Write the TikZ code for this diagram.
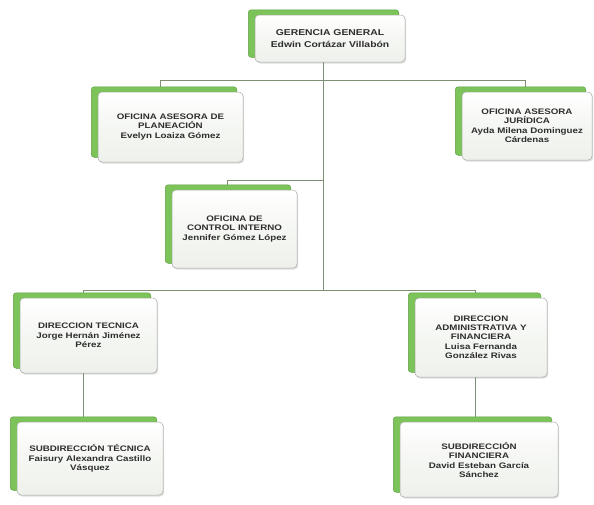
\documentclass[tikz,border=0pt]{standalone}
\usepackage{fontspec}
\setmainfont{Liberation Sans}[FakeStretch=1.22]
\usetikzlibrary{shadows}
\pgfdeclarelayer{bg}
\pgfdeclarelayer{conn}
\pgfdeclarelayer{panel}
\pgfsetlayers{bg,conn,panel,main}
\definecolor{boxfill}{HTML}{EEF1EB}
\definecolor{boxline}{HTML}{A8ABA5}
\definecolor{greenp}{HTML}{7CC35A}
\definecolor{greend}{HTML}{5E9F42}
\definecolor{connc}{HTML}{7F8F74}
\definecolor{txt}{HTML}{2E2E2E}
\tikzset{
  orgbox/.style={draw=boxline, line width=0.5pt, rounded corners=4pt,
    top color=white, bottom color=boxfill, middle color=boxfill!60!white,
    align=center, text=txt, inner sep=2pt,
    font=\fontsize{8}{9}\selectfont\bfseries,
    drop shadow={opacity=0.25, shadow xshift=1.2pt, shadow yshift=-1.5pt}},
  conn/.style={draw=connc, line width=0.8pt},
  panelst/.style={fill=greenp, draw=greend, line width=0.5pt, rounded corners=3pt}
}
\begin{document}
\begin{tikzpicture}[x=1pt,y=-1pt]
\useasboundingbox (0,0) rectangle (594,504);
\begin{pgfonlayer}{bg}
\fill[white] (0,0) rectangle (594,504);
\end{pgfonlayer}

\node[orgbox, minimum width=150pt, minimum height=47pt, font=\fontsize{8.5}{12}\selectfont\bfseries] (ger) at (330,38.5)
  {GERENCIA GENERAL\\Edwin Cortázar Villabón};
\node[orgbox, minimum width=145pt, minimum height=70pt] (plan) at (170.5,127)
  {OFICINA ASESORA DE\\PLANEACIÓN\\[1.5pt]Evelyn Loaiza Gómez};
\node[orgbox, minimum width=130pt, minimum height=68pt] (jur) at (527,126)
  {OFICINA ASESORA\\JURÍDICA\\[1pt]Ayda Milena Dominguez\\Cárdenas};
\node[orgbox, minimum width=125pt, minimum height=78pt] (ctrl) at (234.5,229)
  {OFICINA DE\\CONTROL INTERNO\\[1.5pt]Jennifer Gómez López};
\node[orgbox, minimum width=137pt, minimum height=75pt] (dt) at (88.5,335.5)
  {DIRECCION TECNICA\\[1pt]Jorge Hernán Jiménez\\Pérez};
\node[orgbox, minimum width=132pt, minimum height=79pt] (da) at (481,337.5)
  {DIRECCION\\ADMINISTRATIVA Y\\FINANCIERA\\[1pt]Luisa Fernanda\\González Rivas};
\node[orgbox, minimum width=146pt, minimum height=73pt] (st) at (90,458.5)
  {SUBDIRECCIÓN TÉCNICA\\[1pt]Faisury Alexandra Castillo\\Vásquez};
\node[orgbox, minimum width=158pt, minimum height=75pt] (sf) at (479,459.5)
  {SUBDIRECCIÓN\\FINANCIERA\\[1pt]David Esteban García\\Sánchez};

\begin{pgfonlayer}{panel}
\foreach \n in {ger,plan,jur,ctrl,dt,da,st,sf}{
  \path[panelst] ([xshift=-6.5pt,yshift=5pt]\n.south west) rectangle ([xshift=-6.5pt,yshift=5pt]\n.north east);
}
\end{pgfonlayer}

\coordinate (j1) at (323,80);
\coordinate (j2) at (323,180);
\coordinate (j3) at (323,290);

\begin{pgfonlayer}{conn}
\draw[conn] (ger.south -| j1) -- (j3);
\draw[conn] (j1) -| ([xshift=-10.5pt]plan.north);
\draw[conn] (j1) -| ([xshift=-2pt]jur.north);
\draw[conn] (j2) -| ([xshift=-7.5pt]ctrl.north);
\draw[conn] (j3) -| ([xshift=-5.5pt]dt.north);
\draw[conn] (j3) -| ([xshift=-6pt]da.north);
\draw[conn] ([xshift=-5.5pt]dt.south) -- ([xshift=-5.5pt]dt.south |- st.north);
\draw[conn] ([xshift=-6pt]da.south) -- ([xshift=-6pt]da.south |- sf.north);
\end{pgfonlayer}
\end{tikzpicture}
\end{document}
